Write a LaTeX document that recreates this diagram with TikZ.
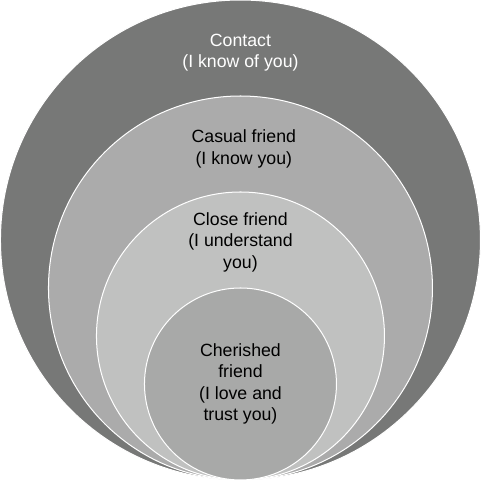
\documentclass[tikz,border=0pt]{standalone}
\usepackage{fontspec}
\setmainfont{Liberation Sans}
\usepackage{tikz}

\definecolor{ringA}{HTML}{777877}
\definecolor{ringB}{HTML}{ABABAB}
\definecolor{ringC}{HTML}{C0C1C0}
\definecolor{ringD}{HTML}{A8A9A8}

\begin{document}
\begin{tikzpicture}[every node/.style={align=center, font=\fontsize{10.5}{12.6}\selectfont}]
\useasboundingbox (-5.01,-0.042) rectangle (5.01,10);

% Draw the circles: radius 5,4,3,2, all touching at the bottom point
\foreach \r/\c in {5/ringA,4/ringB,3/ringC,2/ringD} {
    \filldraw[fill=\c, draw=white, line width=0.6pt] (0,\r) circle (\r);
}

% Labels, from the outside in
\node[text=white] (contact) at (0,8.9) {Contact\\(I know of you)};
\node (casual) at (0.07,6.9) {Casual friend\\(I know you)};
\node (close) at (0,4.95) {Close friend\\(I understand\\you)};
\node (cherished) at (0,2) {Cherished\\friend\\(I love and\\trust you)};
\end{tikzpicture}
\end{document}
